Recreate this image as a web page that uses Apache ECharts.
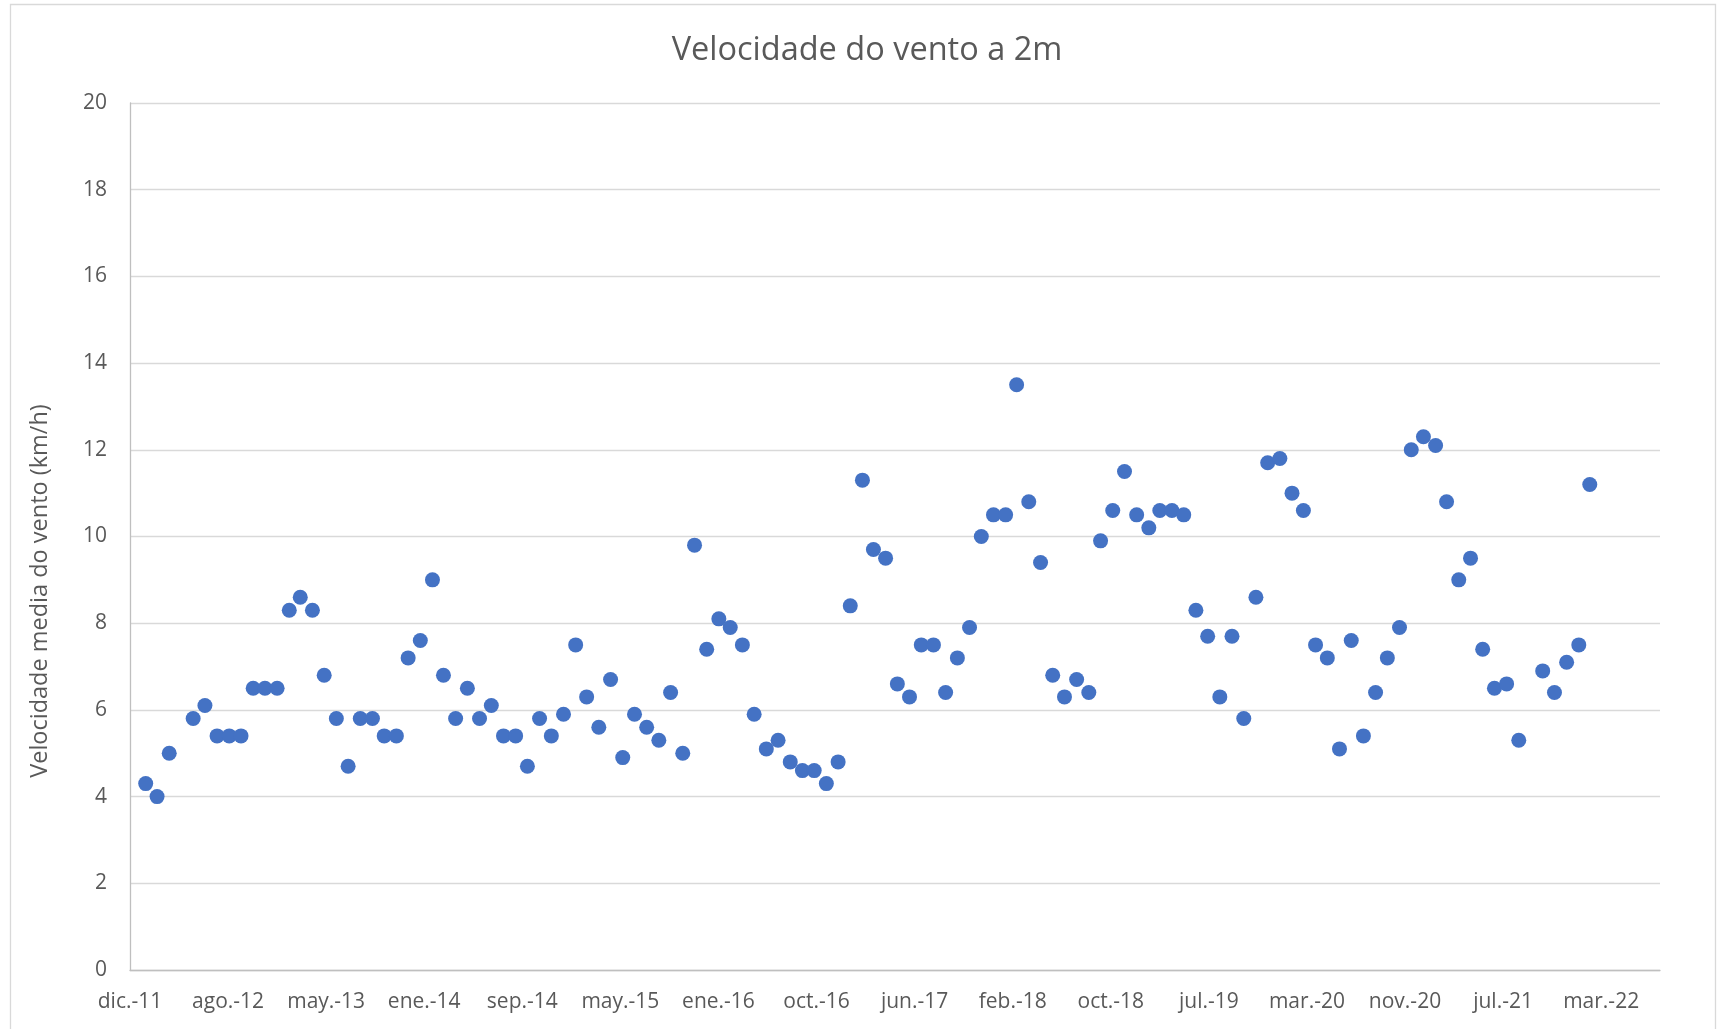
<!DOCTYPE html>
<html>
<head>
<meta charset="utf-8">
<script src="https://cdn.jsdelivr.net/npm/echarts@6/dist/echarts.min.js"></script>
<style>
  html, body { margin: 0; padding: 0; background: #ffffff; }
  #chart { width: 1719px; height: 1029px; }
</style>
</head>
<body>
<div id="chart"></div>
<script>
// ---- data ----
const chartTitle = 'Velocidade do vento a 2m';
const yAxisTitle = 'Velocidade media do vento (km/h)';
const tickLabels = ['dic.-11','ago.-12','may.-13','ene.-14','sep.-14','may.-15','ene.-16','oct.-16',
                    'jun.-17','feb.-18','oct.-18','jul.-19','mar.-20','nov.-20','jul.-21','mar.-22'];
const months = [
  '2012-02','2012-03','2012-04','2012-06','2012-07','2012-08','2012-09','2012-10','2012-11','2012-12',
  '2013-01','2013-02','2013-03','2013-04','2013-05','2013-06','2013-07','2013-08','2013-09','2013-10','2013-11','2013-12',
  '2014-01','2014-02','2014-03','2014-04','2014-05','2014-06','2014-07','2014-08','2014-09','2014-10','2014-11','2014-12',
  '2015-01','2015-02','2015-03','2015-04','2015-05','2015-06','2015-07','2015-08','2015-09','2015-10','2015-11','2015-12',
  '2016-01','2016-02','2016-03','2016-04','2016-05','2016-06','2016-07','2016-08','2016-09','2016-10','2016-11','2016-12',
  '2017-01','2017-02','2017-03','2017-04','2017-05','2017-06','2017-07','2017-08','2017-09','2017-10','2017-11','2017-12',
  '2018-01','2018-02','2018-03','2018-04','2018-05','2018-06','2018-07','2018-08','2018-09','2018-10','2018-11','2018-12',
  '2019-01','2019-02','2019-03','2019-04','2019-05','2019-06','2019-07','2019-08','2019-09','2019-10','2019-11','2019-12',
  '2020-01','2020-02','2020-03','2020-04','2020-05','2020-06','2020-07','2020-08','2020-09','2020-10','2020-11','2020-12',
  '2021-01','2021-02','2021-03','2021-04','2021-05','2021-06','2021-07','2021-08','2021-09','2021-11','2021-12',
  '2022-01','2022-02','2022-03'
];
const windSpeed = [
  4.3, 4.0, 5.0, 5.8, 6.1, 5.4, 5.4, 5.4, 6.5, 6.5,
  6.5, 8.3, 8.6, 8.3, 6.8, 5.8, 4.7, 5.8, 5.8, 5.4, 5.4, 7.2,
  7.6, 9.0, 6.8, 5.8, 6.5, 5.8, 6.1, 5.4, 5.4, 4.7, 5.8, 5.4,
  5.9, 7.5, 6.3, 5.6, 6.7, 4.9, 5.9, 5.6, 5.3, 6.4, 5.0, 9.8,
  7.4, 8.1, 7.9, 7.5, 5.9, 5.1, 5.3, 4.8, 4.6, 4.6, 4.3, 4.8,
  8.4, 11.3, 9.7, 9.5, 6.6, 6.3, 7.5, 7.5, 6.4, 7.2, 7.9, 10.0,
  10.5, 10.5, 13.5, 10.8, 9.4, 6.8, 6.3, 6.7, 6.4, 9.9, 10.6, 11.5,
  10.5, 10.2, 10.6, 10.6, 10.5, 8.3, 7.7, 6.3, 7.7, 5.8, 8.6, 11.7,
  11.8, 11.0, 10.6, 7.5, 7.2, 5.1, 7.6, 5.4, 6.4, 7.2, 7.9, 12.0,
  12.3, 12.1, 10.8, 9.0, 9.5, 7.4, 6.5, 6.6, 5.3, 6.9, 6.4,
  7.1, 7.5, 11.2
];
const axisOriginDate = '2011-12-23';
const xTickStepDays = 250;
const xMaxDays = 3900;

// ---- helpers ----
const DAY = 86400000;
function toUTC(s) {
  const p = s.split('-').map(Number);
  return Date.UTC(p[0], p[1] - 1, p[2] || 1);
}
const origin = toUTC(axisOriginDate);
const points = months.map((m, i) => [(toUTC(m) - origin) / DAY, windSpeed[i]]);

const FONT = 'Open Sans';
const GRAY = '#595959';

const chart = echarts.init(document.getElementById('chart'), null, { renderer: 'canvas' });
chart.setOption({
  backgroundColor: '#ffffff',
  animation: false,
  grid: { left: 130, right: 59, top: 103, bottom: 59, containLabel: false },
  xAxis: {
    type: 'value',
    min: 0,
    max: xMaxDays,
    interval: xTickStepDays,
    axisLine: { show: true, onZero: false, lineStyle: { color: '#bfbfbf', width: 1.3 } },
    axisTick: { show: false },
    splitLine: { show: false },
    axisLabel: {
      showMaxLabel: false,
      color: GRAY, fontFamily: FONT, fontSize: 21, margin: 22,
      formatter: function (v) {
        const k = Math.round(v / xTickStepDays);
        return (Math.abs(v - k * xTickStepDays) < 1e-6 && tickLabels[k]) ? tickLabels[k] : '';
      }
    }
  },
  yAxis: {
    type: 'value',
    min: 0, max: 20, interval: 2,
    axisLine: { show: true, lineStyle: { color: '#bfbfbf', width: 1.3 } },
    axisTick: { show: false },
    splitLine: { show: true, lineStyle: { color: '#d9d9d9', width: 1.3 } },
    axisLabel: { color: GRAY, fontFamily: FONT, fontSize: 21, margin: 23 }
  },
  graphic: [
    {
      type: 'rect', silent: true, z: -10,
      shape: { x: 10.5, y: 4.5, width: 1705, height: 1100 },
      style: { fill: null, stroke: '#d9d9d9', lineWidth: 1.3 }
    },
    {
      type: 'text', x: 867, y: 51,
      style: { text: chartTitle, fill: GRAY, font: '32.5px "' + FONT + '"', textAlign: 'center', textVerticalAlign: 'middle' }
    },
    {
      type: 'text', x: 40, y: 591, rotation: Math.PI / 2,
      style: { text: yAxisTitle, fill: GRAY, font: '23.5px "' + FONT + '"', textAlign: 'center', textVerticalAlign: 'middle' }
    }
  ],
  series: [{
    type: 'scatter',
    data: points,
    symbol: 'circle',
    symbolSize: 15,
    itemStyle: { color: '#4472C4', opacity: 1 }
  }]
});
</script>
</body>
</html>
